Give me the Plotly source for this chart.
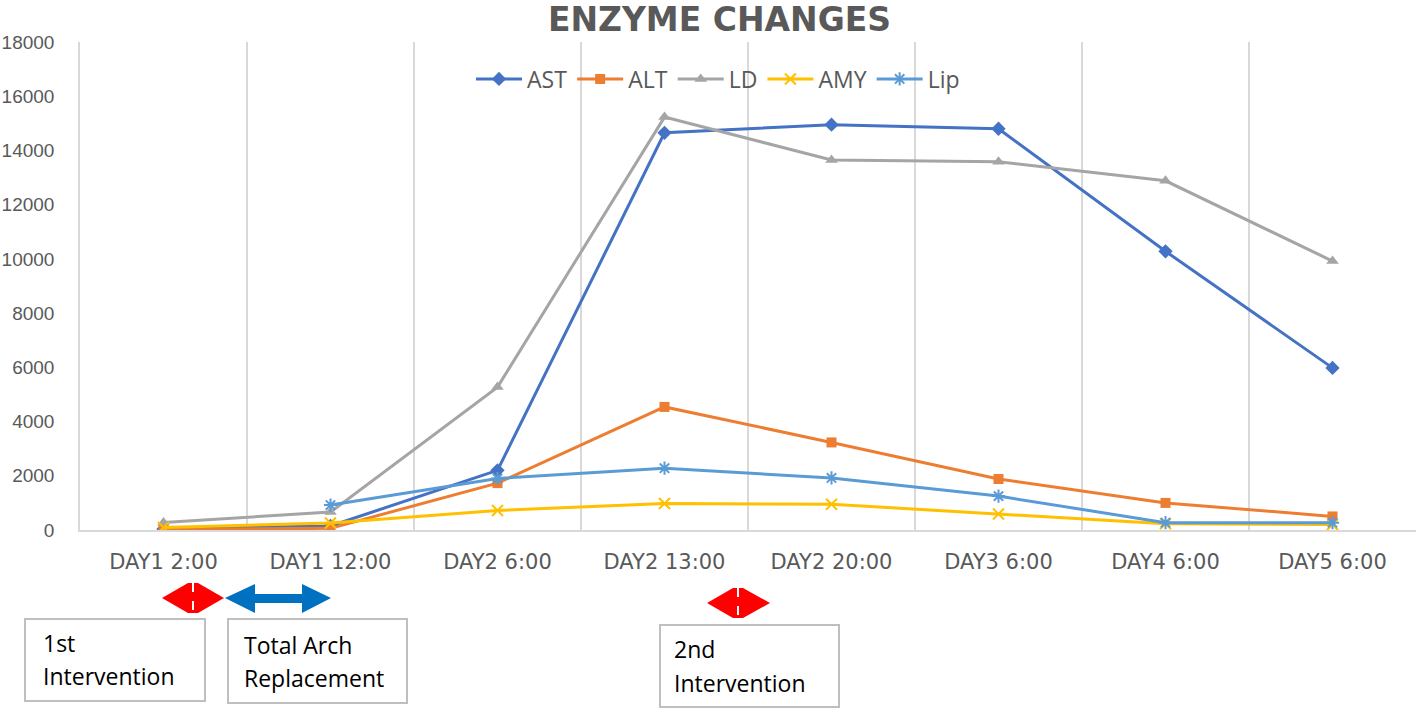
import plotly.graph_objects as go

categories = ["DAY1 2:00", "DAY1 12:00", "DAY2 6:00", "DAY2 13:00",
              "DAY2 20:00", "DAY3 6:00", "DAY4 6:00", "DAY5 6:00"]
ast = [40, 150, 2200, 14650, 14950, 14800, 10280, 5980]
alt = [20, 60, 1730, 4540, 3230, 1880, 1000, 500]
ld = [280, 660, 5270, 15230, 13650, 13580, 12880, 9920]
amy = [90, 260, 720, 980, 950, 590, 230, 200]
lip = [None, 920, 1900, 2280, 1920, 1250, 270, 270]
y_ticks = [0, 2000, 4000, 6000, 8000, 10000, 12000, 14000, 16000, 18000]

W, H = 1418, 708
L, R, T, B = 80, 2, 42, 178
PW, PH = W - L - R, H - T - B


def fx(px):
    return (px - L) / PW


def fy(py):
    return (H - B - py) / PH


fig = go.Figure()
series = [
    ("AST", ast, "#4472C4", "diamond", 11),
    ("ALT", alt, "#ED7D31", "square", 10),
    ("LD", ld, "#A5A5A5", "triangle-up", 11),
    ("AMY", amy, "#FFC000", "x-thin", 11),
    ("Lip", lip, "#5B9BD5", "asterisk", 11),
]
for name, vals, col, sym, sz in series:
    mk = dict(symbol=sym, size=sz, color=col)
    if sym in ("x-thin", "asterisk"):
        mk["line"] = dict(color=col, width=2)
    fig.add_trace(go.Scatter(
        x=categories, y=vals, name=name, mode="lines+markers",
        line=dict(color=col, width=3), marker=mk, connectgaps=False))

shapes = []


def poly(points, color):
    d = "M " + " L ".join(f"{fx(x):.5f},{fy(y):.5f}" for x, y in points) + " Z"
    shapes.append(dict(type="path", path=d, xref="paper", yref="paper",
                       fillcolor=color, line=dict(width=0)))


def vline(x, y0, y1):
    shapes.append(dict(type="line", xref="paper", yref="paper",
                       x0=fx(x), x1=fx(x), y0=fy(y0), y1=fy(y1),
                       line=dict(color="white", width=2, dash="dash")))


def box(x0, y0, x1, y1):
    shapes.append(dict(type="rect", xref="paper", yref="paper",
                       x0=fx(x0), x1=fx(x1), y0=fy(y0), y1=fy(y1),
                       fillcolor="white", line=dict(color="#BFBFBF", width=2)))


# red double arrow 1
poly([(162, 598), (188, 583), (198, 583), (224, 598), (198, 613), (188, 613)], "#FF0000")
vline(193, 583, 613)
# blue double arrow
poly([(225, 598), (255, 584), (255, 594), (302, 594), (302, 584), (331, 598),
      (302, 613), (302, 603), (255, 603), (255, 613)], "#0070C0")
# red double arrow 2
poly([(707, 603), (733, 588), (743, 588), (770, 603), (743, 618), (733, 618)], "#FF0000")
vline(738, 588, 618)

box(25, 619, 205, 701)
box(228, 619, 407, 703)
box(660, 625, 839, 707)

annotations = []
for text, x, y in [("1st", 41, 643), ("Intervention", 41, 676),
                   ("Total Arch", 242, 645), ("Replacement", 242, 678),
                   ("2nd", 672, 649), ("Intervention", 672, 683)]:
    annotations.append(dict(text=text, xref="paper", yref="paper",
                            x=fx(x), y=fy(y), xanchor="left", yanchor="middle",
                            showarrow=False,
                            font=dict(family="Open Sans", size=23, color="#000000")))

fig.update_layout(
    width=W, height=H,
    margin=dict(l=L, r=R, t=T, b=B),
    paper_bgcolor="white", plot_bgcolor="white",
    title=dict(text="<b>ENZYME CHANGES</b>", x=(719.5 - L) / PW, xref="paper",
               xanchor="center", y=1 - 19 / H, yref="container", yanchor="middle",
               font=dict(family="DejaVu Sans", size=33, color="#595959")),
    showlegend=True,
    legend=dict(orientation="h", x=fx(718), y=fy(79), xanchor="center",
                yanchor="middle", bgcolor="rgba(0,0,0,0)", itemwidth=46,
                font=dict(family="Open Sans", size=23, color="#595959")),
    xaxis=dict(type="category", range=[-0.5, len(categories) - 0.5],
               tickson="boundaries", showgrid=True, automargin=False,
               gridcolor="#D9D9D9", gridwidth=1.5, showline=True,
               linecolor="#D9D9D9", linewidth=1.5, ticks="",
               ticklabelstandoff=12,
               tickfont=dict(family="DejaVu Sans", size=21, color="#595959")),
    yaxis=dict(range=[0, 18000], tickvals=y_ticks, tickformat="d", showgrid=False,
               automargin=False,
               zeroline=False, showline=True, linecolor="#D9D9D9", linewidth=1.5,
               ticks="", ticklabelstandoff=20,
               tickfont=dict(family="Liberation Sans", size=19, color="#595959")),
    shapes=shapes,
    annotations=annotations,
)

fig.write_html("out.html", config={"displayModeBar": False},
               post_script="document.body.style.margin='0';document.body.style.padding='0';")
